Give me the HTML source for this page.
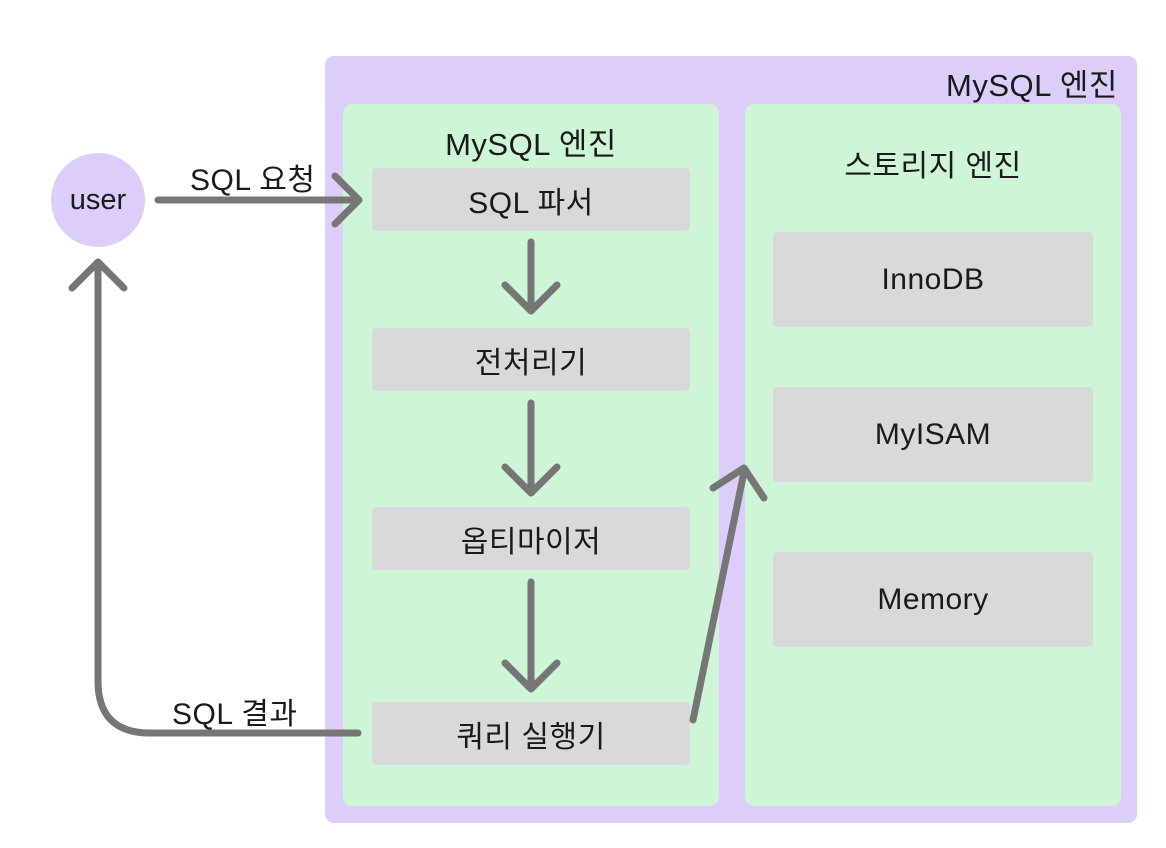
<!DOCTYPE html>
<html><head><meta charset="utf-8"><style>
body{margin:0;width:1166px;height:848px;background:#fff;position:relative;overflow:hidden;font-family:"Liberation Sans","Noto Sans CJK KR",sans-serif;color:#1a1a1a}
.a{position:absolute}
.g{position:absolute;background:#d9d9d9;border-radius:4px;display:flex;align-items:center;justify-content:center;font-size:30px;letter-spacing:0.5px}
.t{position:absolute;font-size:30px;white-space:nowrap;letter-spacing:0.5px}
</style></head><body>
<div class="a" style="left:325px;top:56px;width:812px;height:767px;background:#dccdfb;border-radius:9px"></div>
<div class="t" style="left:946px;top:60px;font-size:31px">MySQL 엔진</div>
<div class="a" style="left:343px;top:104px;width:376px;height:702px;background:#cdf5d6;border-radius:9px"></div>
<div class="a" style="left:745px;top:104px;width:376px;height:702px;background:#cdf5d6;border-radius:9px"></div>
<div class="t" style="left:343px;width:376px;text-align:center;top:119px;font-size:31px">MySQL 엔진</div>
<div class="t" style="left:745px;width:376px;text-align:center;top:141px">스토리지 엔진</div>
<div class="g" style="left:372px;top:168px;width:318px;height:63px">SQL 파서</div>
<div class="g" style="left:372px;top:328px;width:318px;height:63px">전처리기</div>
<div class="g" style="left:372px;top:507px;width:318px;height:63px">옵티마이저</div>
<div class="g" style="left:372px;top:702px;width:318px;height:63px">쿼리 실행기</div>
<div class="g" style="left:773px;top:232px;width:320px;height:95px">InnoDB</div>
<div class="g" style="left:773px;top:387px;width:320px;height:95px">MyISAM</div>
<div class="g" style="left:773px;top:552px;width:320px;height:95px">Memory</div>
<div class="a" style="left:51px;top:153px;width:94px;height:94px;border-radius:50%;background:#dccdfb;display:flex;align-items:center;justify-content:center;font-size:29px">user</div>
<div class="t" style="left:190px;top:155px">SQL 요청</div>
<div class="t" style="left:172px;top:689px">SQL 결과</div>
<svg class="a" style="left:0;top:0" width="1166" height="848" fill="none" stroke="#767676" stroke-width="7" stroke-linecap="round" stroke-linejoin="round">
<path d="M158 200H358M335 176L359 200L335 224"/>
<path d="M531 242V310M505 285L531 311L557 285"/>
<path d="M531 403V493M505 467L531 493L557 467"/>
<path d="M531 582V689M505 663L531 689L557 663"/>
<path d="M358 733H150Q98 733 98 681V264M72 288L98 262L124 288"/>
<path d="M693 720L744 472M713 488L744 468L764 498"/>
</svg>
</body></html>
